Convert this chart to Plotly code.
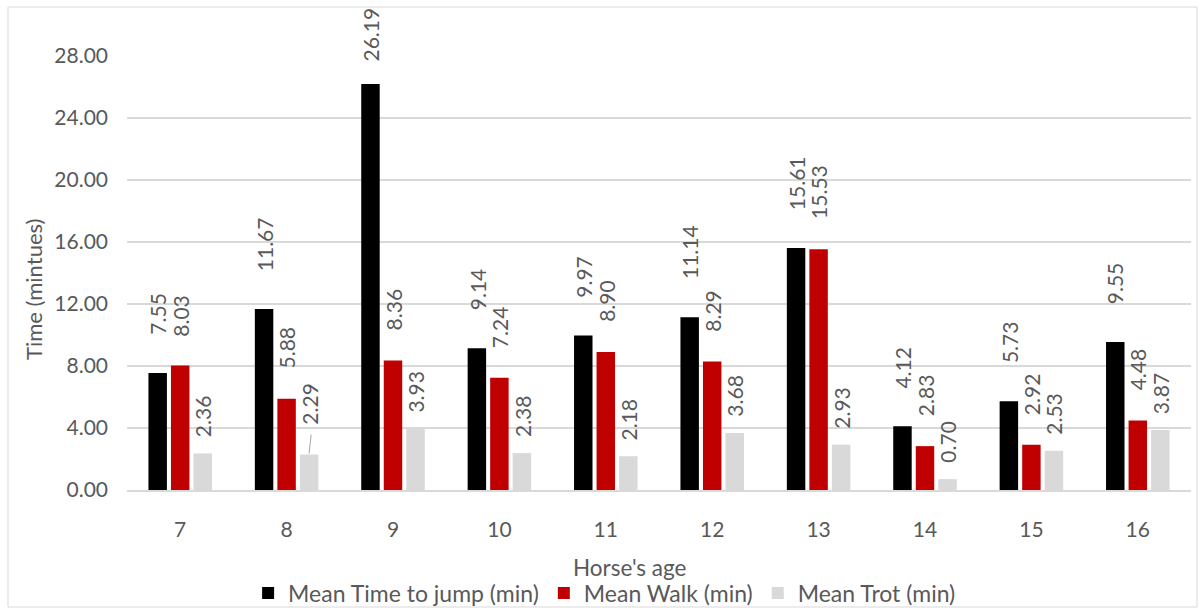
import plotly.graph_objects as go

ages = ["7", "8", "9", "10", "11", "12", "13", "14", "15", "16"]
jump = [7.55, 11.67, 26.19, 9.14, 9.97, 11.14, 15.61, 4.12, 5.73, 9.55]
walk = [8.03, 5.88, 8.36, 7.24, 8.90, 8.29, 15.53, 2.83, 2.92, 4.48]
trot = [2.36, 2.29, 3.93, 2.38, 2.18, 3.68, 2.93, 0.70, 2.53, 3.87]
series_names = ["Mean Time to jump (min)", "Mean Walk (min)", "Mean Trot (min)"]
y_ticks = [0, 4, 8, 12, 16, 20, 24, 28]

colors = ["#000000", "#C00000", "#D9D9D9"]
TXT = "#595959"
FONT = "Lato"
BARGAP = 0.365
GROUPGAP = 0.18

# label gaps (px) above bar top per series, with a few manual tweaks like the original
label_gap = [39, 31, 17]
gap_override = {(0, 2): 24, (1, 0): 30, (2, 1): 31}

fig = go.Figure()
series = [jump, walk, trot]
for k, (name, vals) in enumerate(zip(series_names, series)):
    fig.add_trace(go.Bar(x=ages, y=vals, name=name, marker=dict(color=colors[k], line=dict(width=0))))

slot = (1 - BARGAP) / 3
annotations = []
shapes = []
for k, vals in enumerate(series):
    for i, v in enumerate(vals):
        xpos = i + (k - 1) * slot
        g = gap_override.get((k, i), label_gap[k])
        annotations.append(dict(
            x=xpos, y=v, xref="x", yref="y", text=f"{v:.2f}", showarrow=False,
            textangle=-90, xanchor="center", yanchor="bottom", yshift=g - 2,
            font=dict(family=FONT, size=21, color=TXT), borderpad=0))
# leader line for the 2.29 label
xl = 1 + slot
shapes.append(dict(type="line", xref="x", yref="y", xsizemode="pixel", ysizemode="pixel",
                   xanchor=xl, yanchor=trot[1], x0=0, x1=2, y0=1, y1=20,
                   line=dict(color="#A6A6A6", width=1)))

# axis titles
annotations.append(dict(text="Horse's age", xref="paper", yref="paper", x=(630 - 127) / 1064,
                        y=(490 - 567) / 434, showarrow=False, xanchor="center", yanchor="middle",
                        font=dict(family=FONT, size=22.5, color=TXT)))
annotations.append(dict(text="Time (mintues)", xref="paper", yref="paper", x=(33 - 127) / 1064,
                        y=(490 - 290) / 434, showarrow=False, xanchor="center", yanchor="middle",
                        textangle=-90, font=dict(family=FONT, size=22, color=TXT)))

# chart border
shapes.append(dict(type="rect", xref="paper", yref="paper",
                   x0=(8 - 127) / 1064, x1=(1197 - 127) / 1064,
                   y0=(490 - 607) / 434, y1=(490 - 7) / 434,
                   line=dict(color="#D9D9D9", width=1), layer="below"))

fig.update_layout(
    width=1202, height=610,
    margin=dict(l=127, r=11, t=56, b=120),
    paper_bgcolor="white", plot_bgcolor="white",
    barmode="group", bargap=BARGAP, bargroupgap=GROUPGAP,
    font=dict(family=FONT, color=TXT, size=21),
    showlegend=True,
    legend=dict(orientation="h", xref="container", yref="container", x=0.503, y=1 - 593 / 610,
                xanchor="center", yanchor="middle", font=dict(family=FONT, size=23, color=TXT),
                itemwidth=30, traceorder="normal", bgcolor="rgba(0,0,0,0)"),
    annotations=annotations,
    shapes=shapes,
)
fig.update_xaxes(type="category", showgrid=False, showline=True, linecolor="#D9D9D9", linewidth=2,
                 ticks="", tickfont=dict(family=FONT, size=21, color=TXT), ticklabelstandoff=20)
fig.update_yaxes(range=[0, 28], tickvals=y_ticks, ticktext=[f"{t:.2f}" for t in y_ticks],
                 showgrid=True, gridcolor="#D9D9D9", gridwidth=2, zeroline=False, showline=False,
                 ticks="", tickfont=dict(family=FONT, size=21, color=TXT), ticklabelstandoff=18)

fig.write_html("out.html", config={"displayModeBar": False},
               post_script="document.body.style.margin='0';document.body.style.overflow='hidden';")
